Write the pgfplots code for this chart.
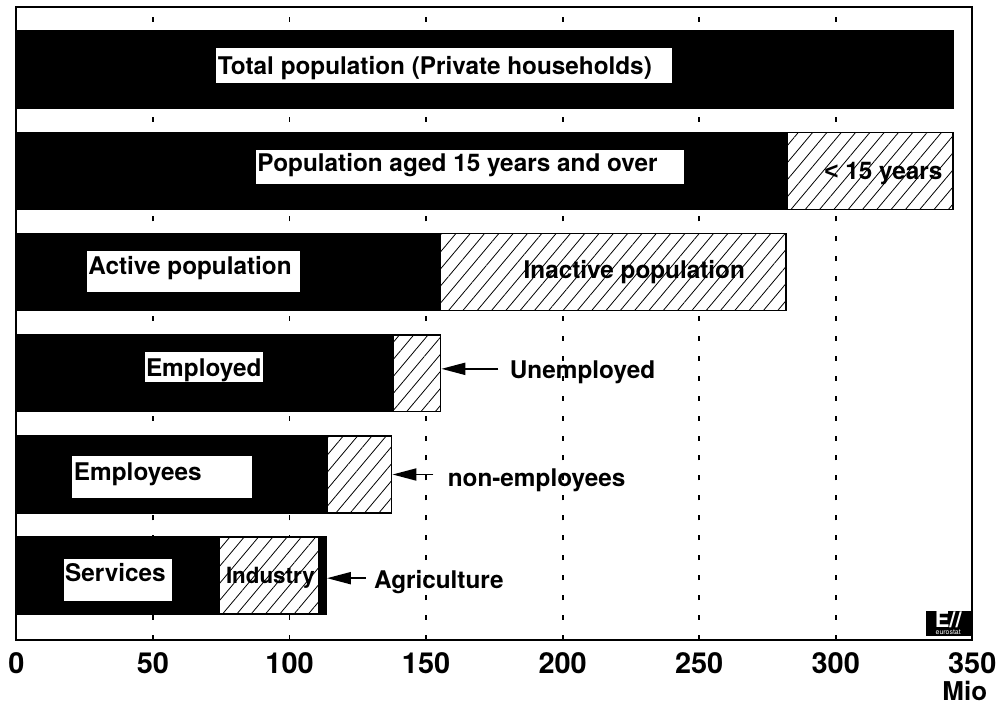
\documentclass[border=0pt]{standalone}
\usepackage{fontspec}
\setmainfont{TeX Gyre Heros}
\newfontfamily\lib{Liberation Sans}
\usepackage{pgfplots}
\pgfplotsset{compat=1.18}
\usetikzlibrary{patterns.meta,arrows.meta}
\newcommand{\lf}{\fontsize{12.2}{14}\selectfont\bfseries}
\begin{document}
\begin{tikzpicture}
\begin{axis}[
  scale only axis, width=479.5pt, height=317.5pt,
  xmin=0, xmax=350, ymin=-0.635, ymax=5.62,
  xtick={0,50,...,350}, ytick=\empty,
  xmajorgrids,
  major grid style={black, line width=0.9pt, dash pattern=on 2.5pt off 7.5pt},
  major tick length=0,
  axis line style={line width=1pt},
  xticklabel style={font=\fontsize{14.5}{14.5}\selectfont\bfseries, yshift=-2.8pt},
  /pgf/number format/assume math mode=true,
  clip=false,
  xbar, bar shift=0pt, bar width=0.76,
  hatch/.style={fill=white, draw=black, line width=0.8pt,
     postaction={pattern={Lines[angle=50,distance=5.5pt,line width=0.4pt]}}},
  solid/.style={fill=black, draw=black, line width=0.8pt},
]
% full extents of the hatched parts
\addplot[hatch] coordinates {(343,4) (281.7,3) (155.3,2) (137.3,1)};
% black parts
\addplot[solid] coordinates {(343,5) (282.2,4) (155.3,3) (137.9,2) (113.7,1) (113.4,0)};
% Industry (hatched) and Services (black)
\addplot[hatch] coordinates {(110.7,0)};
\addplot[solid] coordinates {(74.4,0)};

% label boxes
\fill[white] (axis cs:73.07,5.2131) rectangle (axis cs:240.0,4.8683);
\node[font=\lf, anchor=base west, inner sep=0pt] at (axis cs:73.6,4.950) {Total population (Private households)};
\fill[white] (axis cs:87.66,4.2111) rectangle (axis cs:244.6,3.8663);
\node[font=\lf, anchor=base west, inner sep=0pt] at (axis cs:88.1,3.9895) {Population aged 15 years and over};
\fill[white] (axis cs:25.84,3.2092) rectangle (axis cs:103.7,2.7993);
\node[font=\lf, anchor=base west, inner sep=0pt] at (axis cs:26.2,2.9796) {Active population};
\fill[white] (axis cs:46.9,2.2082) rectangle (axis cs:90.3,1.9126);
\node[font=\lf, anchor=base west, inner sep=0pt] at (axis cs:47.3,1.9717) {Employed};
\fill[white] (axis cs:20.5,1.1835) rectangle (axis cs:86.4,0.7629);
\node[font=\lf, anchor=base west, inner sep=0pt] at (axis cs:20.9,0.9432) {Employees};
\fill[white] (axis cs:17.3,0.1648) rectangle (axis cs:57.0,-0.2490);
\node[font=\lf, anchor=base west, inner sep=0pt] at (axis cs:17.7,-0.0578) {Services};

% texts on hatch / outside
\node[font=\lf, anchor=base west, inner sep=0pt] at (axis cs:185.6,2.9402) {Inactive population};
\node[font=\lf, anchor=base west, inner sep=0pt] at (axis cs:295.7,3.9156) {{\lib\bfseries <} 15 years};
\node[font=\fontsize{11.2}{13}\selectfont\bfseries, anchor=base west, inner sep=0pt] at (axis cs:76.6,-0.0746) {Industry};
\node[font=\lf, anchor=base west, inner sep=0pt] at (axis cs:180.5,1.9451) {Unemployed};
\node[font=\lf, anchor=base west, inner sep=0pt] at (axis cs:157.8,0.8781) {non-employees};
\node[font=\lf, anchor=base west, inner sep=0pt] at (axis cs:130.8,-0.1307) {Agriculture};

% arrows
\draw[line width=1pt, -{Triangle[length=12pt,width=6pt]}] (axis cs:176.5,2.0436) -- (axis cs:155.6,2.0436);
\draw[line width=1pt, -{Triangle[length=12pt,width=6pt]}] (axis cs:152.7,0.9993) -- (axis cs:137.7,0.9993);
\draw[line width=1pt, -{Triangle[length=12pt,width=6pt]}] (axis cs:127.9,-0.0253) -- (axis cs:113.7,-0.0253);

% logo
\node[fill=black, text=white, inner sep=0pt, minimum width=22.5pt, minimum height=9pt,
      font=\fontsize{11}{11}\selectfont\bfseries] at (axis cs:341.2,-0.434) {E//};
\node[fill=black, text=white, inner sep=0pt, minimum width=22.5pt, minimum height=3.8pt,
      font=\fontsize{3.5}{3.5}\selectfont] at (axis cs:341.2,-0.56) {eurostat};

% unit
\node[font=\fontsize{13}{13}\selectfont\bfseries, xshift=-3.75pt, yshift=-25.5pt] at (rel axis cs:1,0) {Mio};

% bounding box
\path ([xshift=-8.25pt,yshift=-34.5pt]rel axis cs:0,0) rectangle ([xshift=13.75pt,yshift=3.5pt]rel axis cs:1,1);
\end{axis}
\end{tikzpicture}
\end{document}
